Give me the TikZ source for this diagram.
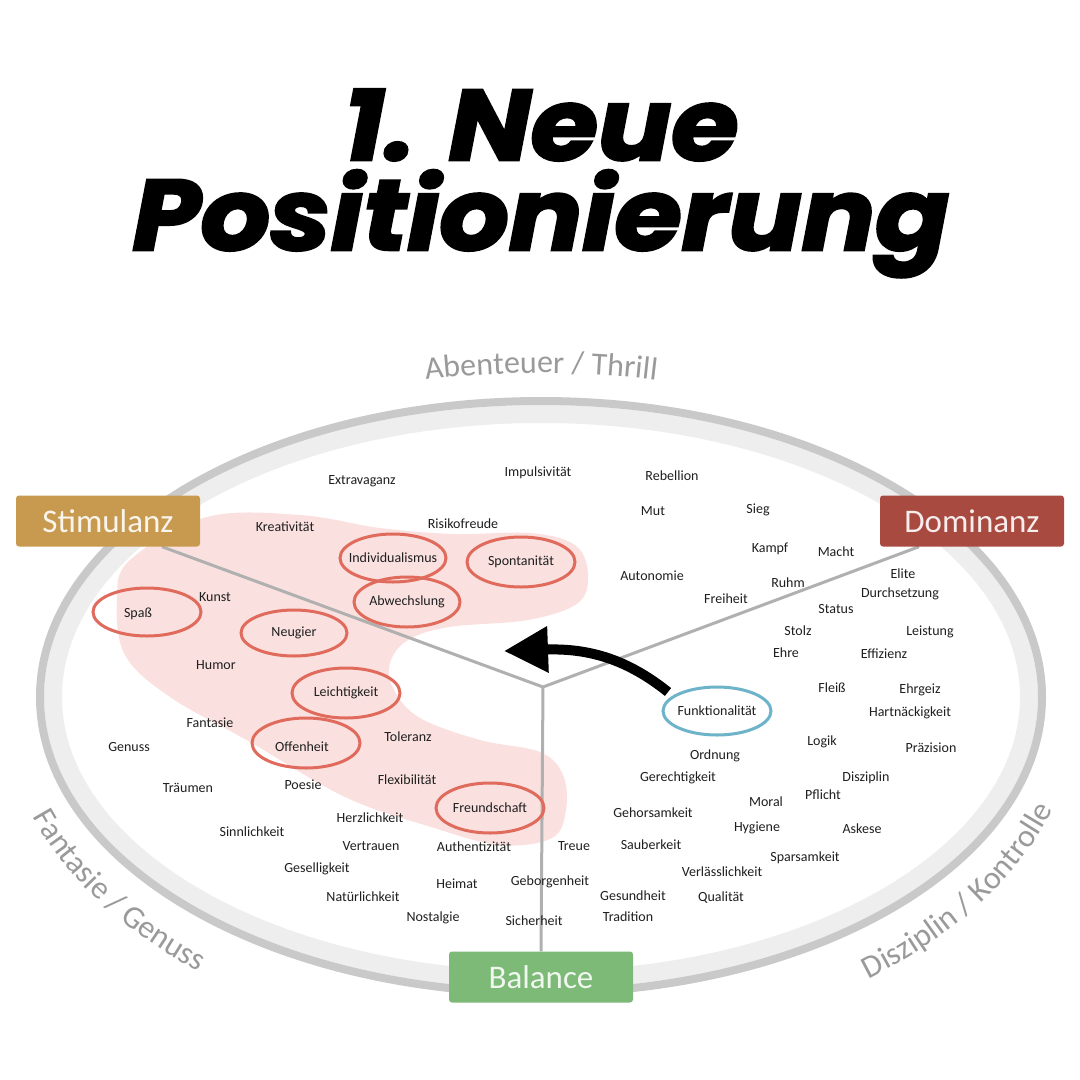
\documentclass[tikz,border=0pt]{standalone}
\usepackage{graphicx}
\usepackage{fontspec}
\setmainfont{Carlito}
\newfontfamily\titlefont[BoldItalicFeatures={FakeBold=2.5}]{Poppins}
\usetikzlibrary{positioning, arrows.meta, calc, decorations.text, backgrounds}

\definecolor{stimgold}{HTML}{C89A50}
\definecolor{domred}{HTML}{A84A3F}
\definecolor{balgreen}{HTML}{7DB977}
\definecolor{ringgray}{HTML}{C9C9C9}
\definecolor{ringlight}{HTML}{EEEEEE}
\definecolor{axisgray}{HTML}{B0B0B0}
\definecolor{labelgray}{HTML}{9A9A9A}
\definecolor{blobpink}{HTML}{FAE1DF}
\definecolor{pickred}{HTML}{E06A5C}
\definecolor{pickblue}{HTML}{6DB3C9}
\definecolor{wordblack}{HTML}{1F1F1F}

\newcommand\arclabel{\fontsize{32}{32}\selectfont\color{labelgray}}
\newcommand\widetitle[1]{\scalebox{1.09}[1]{#1}}

\begin{document}
\begin{tikzpicture}[
  x=1pt, y=-1pt,
  word/.style={font=\fontsize{14}{16}\selectfont, text=wordblack, inner sep=0pt},
  axisbox/.style={rounded corners=3pt, minimum width=184pt, minimum height=51pt,
                  font=\fontsize{33}{33}\selectfont},
  axisline/.style={draw=axisgray, line width=3pt},
  pick/.style={draw=pickred, line width=3pt},
  pickblue/.style={draw=pickblue, line width=3pt},
  shiftarrow/.style={line width=10pt, -{Triangle[length=44pt, width=44pt]}},
  title/.style={font=\titlefont\bfseries\itshape\fontsize{100}{100}\selectfont, anchor=base},
]

\useasboundingbox (0,0) rectangle (1080,1080);

% Title
\node[title] (titleA) at (541,160) {\widetitle{1. Neue}};
\node[title] (titleB) at (541,250) {\widetitle{Positionierung}};

% Axis boxes
\node[axisbox, fill=stimgold, text=white!90!stimgold] (stim) at (108,521) {Stimulanz};
\node[axisbox, fill=domred, text=white!90!domred] (dom) at (972,521) {Dominanz};
\node[axisbox, fill=balgreen, text=white!88!balgreen] (bal) at (541,977) {Balance};
\coordinate (hub) at (543,687);

\begin{pgfonlayer}{background}
\fill[white] (0,0) rectangle (1080,1080);
% Outer ring
\draw[ringlight, line width=18pt] (541,697) ellipse [x radius=488, y radius=283];
\draw[ringgray, line width=8pt] (541,697) ellipse [x radius=501, y radius=296];
% Highlighted area
\fill[blobpink] plot[smooth cycle, tension=0.6] coordinates {
  (207,517) (300,515) (380,528) (455,534) (530,533) (575,545) (588,574)
  (578,603) (528,620) (449,627) (408,640) (390,663) (394,690) (420,718)
  (480,740) (540,752) (563,775) (566,810) (552,838) (500,845) (431,827)
  (345,797) (250,742) (170,697) (125,655) (117,600) (130,560)};
% Axes
\path[axisline] (hub) -- ($(stim.south)+(54,0)$);
\path[axisline] (hub) -- ($(dom.south)+(-53,0)$);
\path[axisline] (hub) -- (bal.north);
\end{pgfonlayer}

% Ring labels
\path[decorate, decoration={text along path, text align=center,
      text={|\arclabel|Abenteuer / Thrill}}]
  (541,697) ++(250:560 and 324) arc[start angle=250, end angle=290, x radius=560, y radius=324];
\path[decorate, decoration={text along path, text align=center,
      text={|\arclabel|Fantasie / Genuss}}]
  (541,697) ++(177:540 and 355) arc[start angle=177, end angle=117, x radius=540, y radius=355];
\path[decorate, decoration={text along path, text align=center,
      text={|\arclabel|Disziplin / Kontrolle}}]
  (541,697) ++(63.6:540 and 355) arc[start angle=63.6, end angle=3.6, x radius=540, y radius=355];

% Stimulanz side
\node[word] (extravaganz) at (362,481) {Extravaganz};
\node[word] (impuls) at (538,473) {Impulsivität};
\node[word] (kreativ) at (285,527) {Kreativität};
\node[word] (risiko) at (463,524) {Risikofreude};
\node[word] (individ) at (393,558) {Individualismus};
\node[word] (spontan) at (521,562) {Spontanität};
\node[word] (abwechs) at (407,602) {Abwechslung};
\node[word] (kunst) at (215,597) {Kunst};
\node[word] (spass) at (138,614) {Spaß};
\node[word] (neugier) at (294,633) {Neugier};
\node[word] (humor) at (216,665) {Humor};
\node[word] (leicht) at (346,693) {Leichtigkeit};
\node[word] (fantasie) at (210,723) {Fantasie};
\node[word] (genuss) at (129,747) {Genuss};
\node[word] (offen) at (302,747) {Offenheit};
\node[word] (toleranz) at (408,737) {Toleranz};
\node[word] (traeumen) at (188,788) {Träumen};
\node[word] (poesie) at (303,785) {Poesie};
\node[word] (flexi) at (407,780) {Flexibilität};
\node[word] (freund) at (490,808) {Freundschaft};
\node[word] (herz) at (370,818) {Herzlichkeit};
\node[word] (sinnlich) at (252,832) {Sinnlichkeit};

% Dominanz side
\node[word] (rebellion) at (672,476) {Rebellion};
\node[word] (mut) at (653,511) {Mut};
\node[word] (sieg) at (758,510) {Sieg};
\node[word] (kampf) at (770,549) {Kampf};
\node[word] (macht) at (836,552) {Macht};
\node[word] (autonomie) at (652,576) {Autonomie};
\node[word] (elite) at (903,574) {Elite};
\node[word] (ruhm) at (788,583) {Ruhm};
\node[word] (freiheit) at (726,599) {Freiheit};
\node[word] (durchs) at (900,594) {Durchsetzung};
\node[word] (status) at (836,609) {Status};
\node[word] (stolz) at (798,631) {Stolz};
\node[word] (leistung) at (930,632) {Leistung};
\node[word] (ehre) at (786,653) {Ehre};
\node[word] (effizienz) at (884,654) {Effizienz};
\node[word] (fleiss) at (832,688) {Fleiß};
\node[word] (ehrgeiz) at (920,690) {Ehrgeiz};
\node[word] (funktion) at (717,711) {Funktionalität};
\node[word] (hartn) at (910,713) {Hartnäckigkeit};
\node[word] (logik) at (822,742) {Logik};
\node[word] (praez) at (931,748) {Präzision};
\node[word] (ordnung) at (715,756) {Ordnung};
\node[word] (gerecht) at (678,778) {Gerechtigkeit};
\node[word] (disziplin) at (866,778) {Disziplin};
\node[word] (pflicht) at (823,795) {Pflicht};
\node[word] (moral) at (766,802) {Moral};
\node[word] (gehorsam) at (653,813) {Gehorsamkeit};
\node[word] (hygiene) at (757,828) {Hygiene};
\node[word] (askese) at (862,829) {Askese};

% Balance side
\node[word] (vertrauen) at (371,846) {Vertrauen};
\node[word] (authent) at (474,847) {Authentizität};
\node[word] (treue) at (574,846) {Treue};
\node[word] (sauber) at (651,845) {Sauberkeit};
\node[word] (sparsam) at (805,858) {Sparsamkeit};
\node[word] (verlass) at (722,872) {Verlässlichkeit};
\node[word] (gesellig) at (317,869) {Geselligkeit};
\node[word] (heimat) at (457,884) {Heimat};
\node[word] (geborgen) at (550,882) {Geborgenheit};
\node[word] (natur) at (363,897) {Natürlichkeit};
\node[word] (gesund) at (633,896) {Gesundheit};
\node[word] (qualitaet) at (721,898) {Qualität};
\node[word] (nostalgie) at (433,918) {Nostalgie};
\node[word] (sicher) at (534,921) {Sicherheit};
\node[word] (tradition) at (628,917) {Tradition};

% Picks
\draw[pick] ($(spass)+(9,-2)$) ellipse [x radius=54, y radius=24];
\draw[pick] (individ) ellipse [x radius=53, y radius=24];
\draw[pick] (spontan) ellipse [x radius=54, y radius=25];
\draw[pick] (abwechs) ellipse [x radius=53, y radius=25];
\draw[pick] (neugier) ellipse [x radius=53, y radius=23];
\draw[pick] (leicht) ellipse [x radius=54, y radius=25];
\draw[pick] ($(offen)+(4,-4)$) ellipse [x radius=54, y radius=25];
\draw[pick] (freund) ellipse [x radius=54, y radius=25];
\draw[pickblue] (funktion) ellipse [x radius=54, y radius=24];

% Shift arrow
\coordinate (armtail) at (668,692);
\coordinate (armtip) at (504,651);
\draw[shiftarrow] (armtail) .. controls (628,660) and (590,648) .. (armtip);

\end{tikzpicture}
\end{document}
